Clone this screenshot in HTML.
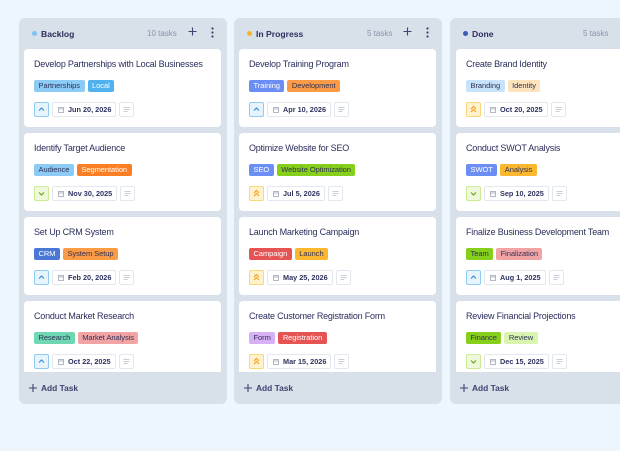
<!DOCTYPE html>
<html><head><meta charset="utf-8"><style>
*{box-sizing:border-box;margin:0;padding:0}
html,body{width:620px;height:451px;overflow:hidden}
body{background:#eef6fd;font-family:"Liberation Sans",Arial,sans-serif;position:relative;color:#2f3360}
.col{position:absolute;top:18px;width:208px;height:386px;background:#d8e0ea;border-radius:6px;overflow:hidden}
.hd{position:absolute;left:0;top:0;width:100%;height:31px}
.dot{position:absolute;left:13px;top:13px;width:5px;height:5px;border-radius:50%}
.name{position:absolute;left:22px;top:10px;line-height:12px;font-size:8.6px;font-weight:bold;color:#2b2f5c}
.cnt{position:absolute;top:10px;line-height:12px;font-size:8px;color:#8a93a8}
.plus{position:absolute;top:9px;width:9px;height:9px}
.keb{position:absolute;top:9px;width:3px;height:11px}
.list{position:absolute;left:5px;top:31px;width:197px;height:323px;overflow:hidden}
.card{position:relative;width:197px;height:78px;background:#fff;border-radius:4px;margin-bottom:6px}
.t{position:absolute;left:10px;top:9px;line-height:12px;font-size:9px;letter-spacing:-0.2px;color:#2a2e5c;white-space:nowrap}
.tags{position:absolute;left:10px;top:31px;display:flex;gap:3px}
.tag{height:12px;line-height:12px;padding:0 4.5px;font-size:7.5px;letter-spacing:-0.05px;border-radius:2px;color:#2d3158;white-space:nowrap}
.w{color:#fff}
.ft{position:absolute;left:10px;top:53px;display:flex;gap:3px}
.pr{width:15px;height:15px;border:1px solid;border-radius:2px;display:block}
.up{background:#e7f4fe;border-color:#8fcbf5}
.dn{background:#eff8da;border-color:#cdeb92}
.hi{background:#fff2cf;border-color:#fbd67a}
.dt{height:15px;border:1px solid #e3e7ef;border-radius:2px;display:flex;align-items:center;padding:0 4px 0 5px;font-size:7.3px;font-weight:bold;color:#2f3360;white-space:nowrap}
.dt svg{margin-right:4px}
.ds{width:15px;height:15px;border:1px solid #e3e7ef;border-radius:2px;display:block}
.add{position:absolute;left:0;top:354px;width:100%;height:32px}
.add span{position:absolute;left:22px;top:10px;line-height:12px;font-size:8.4px;font-weight:bold;color:#3d4470}
.add svg{position:absolute;left:10px;top:12px}
</style></head><body>

<!-- Backlog -->
<div class="col" style="left:19px">
 <div class="hd">
  <div class="dot" style="background:#7fc4f4"></div>
  <div class="name">Backlog</div>
  <div class="cnt" style="left:128px">10 tasks</div>
  <svg class="plus" style="left:169px" viewBox="0 0 9 9"><path d="M4.5 0.5v8M0.5 4.5h8" stroke="#3d4470" stroke-width="1.1"/></svg>
  <svg class="keb" style="left:192px" viewBox="0 0 3 11"><circle cx="1.5" cy="1.5" r="1.1" fill="#3d4470"/><circle cx="1.5" cy="5.5" r="1.1" fill="#3d4470"/><circle cx="1.5" cy="9.5" r="1.1" fill="#3d4470"/></svg>
 </div>
 <div class="list">
  <div class="card"><div class="t">Develop Partnerships with Local Businesses</div>
   <div class="tags"><span class="tag" style="background:#8ccbf5">Partnerships</span><span class="tag w" style="background:#4fb1ee">Local</span></div>
   <div class="ft"><svg class="pr up" viewBox="0 0 13 13"><polyline points="4,7.5 6.5,5 9,7.5" fill="none" stroke="#3b8fd9" stroke-width="1.2"/></svg><span class="dt"><svg width="6" height="6" viewBox="0 0 6 6"><rect x="0.5" y="0.5" width="5" height="5" fill="none" stroke="#a0a6b8" stroke-width="0.8"/><path d="M0.5 2h5" stroke="#a0a6b8" stroke-width="0.8"/></svg>Jun 20, 2026</span><svg class="ds" viewBox="0 0 13 13"><path d="M3.5 4.5h6M3.5 6.5h6M3.5 8.5h4" stroke="#b8bdcb" stroke-width="0.8"/></svg></div></div>
  <div class="card"><div class="t">Identify Target Audience</div>
   <div class="tags"><span class="tag" style="background:#8ccbf5">Audience</span><span class="tag w" style="background:#fb7e22">Segmentation</span></div>
   <div class="ft"><svg class="pr dn" viewBox="0 0 13 13"><polyline points="4,5.5 6.5,8 9,5.5" fill="none" stroke="#6aa81a" stroke-width="1.2"/></svg><span class="dt"><svg width="6" height="6" viewBox="0 0 6 6"><rect x="0.5" y="0.5" width="5" height="5" fill="none" stroke="#a0a6b8" stroke-width="0.8"/><path d="M0.5 2h5" stroke="#a0a6b8" stroke-width="0.8"/></svg>Nov 30, 2025</span><svg class="ds" viewBox="0 0 13 13"><path d="M3.5 4.5h6M3.5 6.5h6M3.5 8.5h4" stroke="#b8bdcb" stroke-width="0.8"/></svg></div></div>
  <div class="card"><div class="t">Set Up CRM System</div>
   <div class="tags"><span class="tag w" style="background:#4a78d4">CRM</span><span class="tag" style="background:#fb9b45">System Setup</span></div>
   <div class="ft"><svg class="pr up" viewBox="0 0 13 13"><polyline points="4,7.5 6.5,5 9,7.5" fill="none" stroke="#3b8fd9" stroke-width="1.2"/></svg><span class="dt"><svg width="6" height="6" viewBox="0 0 6 6"><rect x="0.5" y="0.5" width="5" height="5" fill="none" stroke="#a0a6b8" stroke-width="0.8"/><path d="M0.5 2h5" stroke="#a0a6b8" stroke-width="0.8"/></svg>Feb 20, 2026</span><svg class="ds" viewBox="0 0 13 13"><path d="M3.5 4.5h6M3.5 6.5h6M3.5 8.5h4" stroke="#b8bdcb" stroke-width="0.8"/></svg></div></div>
  <div class="card"><div class="t">Conduct Market Research</div>
   <div class="tags"><span class="tag" style="background:#6fd8b2">Research</span><span class="tag" style="background:#f2a4a4">Market Analysis</span></div>
   <div class="ft"><svg class="pr up" viewBox="0 0 13 13"><polyline points="4,7.5 6.5,5 9,7.5" fill="none" stroke="#3b8fd9" stroke-width="1.2"/></svg><span class="dt"><svg width="6" height="6" viewBox="0 0 6 6"><rect x="0.5" y="0.5" width="5" height="5" fill="none" stroke="#a0a6b8" stroke-width="0.8"/><path d="M0.5 2h5" stroke="#a0a6b8" stroke-width="0.8"/></svg>Oct 22, 2025</span><svg class="ds" viewBox="0 0 13 13"><path d="M3.5 4.5h6M3.5 6.5h6M3.5 8.5h4" stroke="#b8bdcb" stroke-width="0.8"/></svg></div></div>
 </div>
 <div class="add"><svg width="8" height="8" viewBox="0 0 8 8"><path d="M4 0v8M0 4h8" stroke="#3d4470" stroke-width="1.1"/></svg><span>Add Task</span></div>
</div>

<!-- In Progress -->
<div class="col" style="left:234px">
 <div class="hd">
  <div class="dot" style="background:#f7b52c"></div>
  <div class="name">In Progress</div>
  <div class="cnt" style="left:133px">5 tasks</div>
  <svg class="plus" style="left:169px" viewBox="0 0 9 9"><path d="M4.5 0.5v8M0.5 4.5h8" stroke="#3d4470" stroke-width="1.1"/></svg>
  <svg class="keb" style="left:192px" viewBox="0 0 3 11"><circle cx="1.5" cy="1.5" r="1.1" fill="#3d4470"/><circle cx="1.5" cy="5.5" r="1.1" fill="#3d4470"/><circle cx="1.5" cy="9.5" r="1.1" fill="#3d4470"/></svg>
 </div>
 <div class="list">
  <div class="card"><div class="t">Develop Training Program</div>
   <div class="tags"><span class="tag w" style="background:#6b8ef5">Training</span><span class="tag" style="background:#fb9b45">Development</span></div>
   <div class="ft"><svg class="pr up" viewBox="0 0 13 13"><polyline points="4,7.5 6.5,5 9,7.5" fill="none" stroke="#3b8fd9" stroke-width="1.2"/></svg><span class="dt"><svg width="6" height="6" viewBox="0 0 6 6"><rect x="0.5" y="0.5" width="5" height="5" fill="none" stroke="#a0a6b8" stroke-width="0.8"/><path d="M0.5 2h5" stroke="#a0a6b8" stroke-width="0.8"/></svg>Apr 10, 2026</span><svg class="ds" viewBox="0 0 13 13"><path d="M3.5 4.5h6M3.5 6.5h6M3.5 8.5h4" stroke="#b8bdcb" stroke-width="0.8"/></svg></div></div>
  <div class="card"><div class="t">Optimize Website for SEO</div>
   <div class="tags"><span class="tag w" style="background:#6b8ef5">SEO</span><span class="tag" style="background:#86cf1a">Website Optimization</span></div>
   <div class="ft"><svg class="pr hi" viewBox="0 0 13 13"><polyline points="4,6 6.5,3.5 9,6" fill="none" stroke="#f5a020" stroke-width="1.2"/><polyline points="4,9 6.5,6.5 9,9" fill="none" stroke="#f5a020" stroke-width="1.2"/></svg><span class="dt"><svg width="6" height="6" viewBox="0 0 6 6"><rect x="0.5" y="0.5" width="5" height="5" fill="none" stroke="#a0a6b8" stroke-width="0.8"/><path d="M0.5 2h5" stroke="#a0a6b8" stroke-width="0.8"/></svg>Jul 5, 2026</span><svg class="ds" viewBox="0 0 13 13"><path d="M3.5 4.5h6M3.5 6.5h6M3.5 8.5h4" stroke="#b8bdcb" stroke-width="0.8"/></svg></div></div>
  <div class="card"><div class="t">Launch Marketing Campaign</div>
   <div class="tags"><span class="tag w" style="background:#e55353">Campaign</span><span class="tag" style="background:#fbb82e">Launch</span></div>
   <div class="ft"><svg class="pr hi" viewBox="0 0 13 13"><polyline points="4,6 6.5,3.5 9,6" fill="none" stroke="#f5a020" stroke-width="1.2"/><polyline points="4,9 6.5,6.5 9,9" fill="none" stroke="#f5a020" stroke-width="1.2"/></svg><span class="dt"><svg width="6" height="6" viewBox="0 0 6 6"><rect x="0.5" y="0.5" width="5" height="5" fill="none" stroke="#a0a6b8" stroke-width="0.8"/><path d="M0.5 2h5" stroke="#a0a6b8" stroke-width="0.8"/></svg>May 25, 2026</span><svg class="ds" viewBox="0 0 13 13"><path d="M3.5 4.5h6M3.5 6.5h6M3.5 8.5h4" stroke="#b8bdcb" stroke-width="0.8"/></svg></div></div>
  <div class="card"><div class="t">Create Customer Registration Form</div>
   <div class="tags"><span class="tag" style="background:#d8b0f5">Form</span><span class="tag w" style="background:#e55353">Registration</span></div>
   <div class="ft"><svg class="pr hi" viewBox="0 0 13 13"><polyline points="4,6 6.5,3.5 9,6" fill="none" stroke="#f5a020" stroke-width="1.2"/><polyline points="4,9 6.5,6.5 9,9" fill="none" stroke="#f5a020" stroke-width="1.2"/></svg><span class="dt"><svg width="6" height="6" viewBox="0 0 6 6"><rect x="0.5" y="0.5" width="5" height="5" fill="none" stroke="#a0a6b8" stroke-width="0.8"/><path d="M0.5 2h5" stroke="#a0a6b8" stroke-width="0.8"/></svg>Mar 15, 2026</span><svg class="ds" viewBox="0 0 13 13"><path d="M3.5 4.5h6M3.5 6.5h6M3.5 8.5h4" stroke="#b8bdcb" stroke-width="0.8"/></svg></div></div>
 </div>
 <div class="add"><svg width="8" height="8" viewBox="0 0 8 8"><path d="M4 0v8M0 4h8" stroke="#3d4470" stroke-width="1.1"/></svg><span>Add Task</span></div>
</div>

<!-- Done -->
<div class="col" style="left:450px">
 <div class="hd">
  <div class="dot" style="background:#3a5bb8"></div>
  <div class="name">Done</div>
  <div class="cnt" style="left:133px">5 tasks</div>
  <svg class="plus" style="left:172px" viewBox="0 0 9 9"><path d="M4.5 0.5v8M0.5 4.5h8" stroke="#3d4470" stroke-width="1.1"/></svg>
  <svg class="keb" style="left:192px" viewBox="0 0 3 11"><circle cx="1.5" cy="1.5" r="1.1" fill="#3d4470"/><circle cx="1.5" cy="5.5" r="1.1" fill="#3d4470"/><circle cx="1.5" cy="9.5" r="1.1" fill="#3d4470"/></svg>
 </div>
 <div class="list" style="left:6px">
  <div class="card"><div class="t">Create Brand Identity</div>
   <div class="tags"><span class="tag" style="background:#c6e3fa">Branding</span><span class="tag" style="background:#fde3bc">Identity</span></div>
   <div class="ft"><svg class="pr hi" viewBox="0 0 13 13"><polyline points="4,6 6.5,3.5 9,6" fill="none" stroke="#f5a020" stroke-width="1.2"/><polyline points="4,9 6.5,6.5 9,9" fill="none" stroke="#f5a020" stroke-width="1.2"/></svg><span class="dt"><svg width="6" height="6" viewBox="0 0 6 6"><rect x="0.5" y="0.5" width="5" height="5" fill="none" stroke="#a0a6b8" stroke-width="0.8"/><path d="M0.5 2h5" stroke="#a0a6b8" stroke-width="0.8"/></svg>Oct 20, 2025</span><svg class="ds" viewBox="0 0 13 13"><path d="M3.5 4.5h6M3.5 6.5h6M3.5 8.5h4" stroke="#b8bdcb" stroke-width="0.8"/></svg></div></div>
  <div class="card"><div class="t">Conduct SWOT Analysis</div>
   <div class="tags"><span class="tag w" style="background:#6b8ef5">SWOT</span><span class="tag" style="background:#fbb82e">Analysis</span></div>
   <div class="ft"><svg class="pr dn" viewBox="0 0 13 13"><polyline points="4,5.5 6.5,8 9,5.5" fill="none" stroke="#6aa81a" stroke-width="1.2"/></svg><span class="dt"><svg width="6" height="6" viewBox="0 0 6 6"><rect x="0.5" y="0.5" width="5" height="5" fill="none" stroke="#a0a6b8" stroke-width="0.8"/><path d="M0.5 2h5" stroke="#a0a6b8" stroke-width="0.8"/></svg>Sep 10, 2025</span><svg class="ds" viewBox="0 0 13 13"><path d="M3.5 4.5h6M3.5 6.5h6M3.5 8.5h4" stroke="#b8bdcb" stroke-width="0.8"/></svg></div></div>
  <div class="card"><div class="t">Finalize Business Development Team</div>
   <div class="tags"><span class="tag" style="background:#86cf1a">Team</span><span class="tag" style="background:#f2a4a4">Finalization</span></div>
   <div class="ft"><svg class="pr up" viewBox="0 0 13 13"><polyline points="4,7.5 6.5,5 9,7.5" fill="none" stroke="#3b8fd9" stroke-width="1.2"/></svg><span class="dt"><svg width="6" height="6" viewBox="0 0 6 6"><rect x="0.5" y="0.5" width="5" height="5" fill="none" stroke="#a0a6b8" stroke-width="0.8"/><path d="M0.5 2h5" stroke="#a0a6b8" stroke-width="0.8"/></svg>Aug 1, 2025</span><svg class="ds" viewBox="0 0 13 13"><path d="M3.5 4.5h6M3.5 6.5h6M3.5 8.5h4" stroke="#b8bdcb" stroke-width="0.8"/></svg></div></div>
  <div class="card"><div class="t">Review Financial Projections</div>
   <div class="tags"><span class="tag" style="background:#86cf1a">Finance</span><span class="tag" style="background:#d9f5b0">Review</span></div>
   <div class="ft"><svg class="pr dn" viewBox="0 0 13 13"><polyline points="4,5.5 6.5,8 9,5.5" fill="none" stroke="#6aa81a" stroke-width="1.2"/></svg><span class="dt"><svg width="6" height="6" viewBox="0 0 6 6"><rect x="0.5" y="0.5" width="5" height="5" fill="none" stroke="#a0a6b8" stroke-width="0.8"/><path d="M0.5 2h5" stroke="#a0a6b8" stroke-width="0.8"/></svg>Dec 15, 2025</span><svg class="ds" viewBox="0 0 13 13"><path d="M3.5 4.5h6M3.5 6.5h6M3.5 8.5h4" stroke="#b8bdcb" stroke-width="0.8"/></svg></div></div>
 </div>
 <div class="add"><svg width="8" height="8" viewBox="0 0 8 8"><path d="M4 0v8M0 4h8" stroke="#3d4470" stroke-width="1.1"/></svg><span>Add Task</span></div>
</div>

</body></html>
